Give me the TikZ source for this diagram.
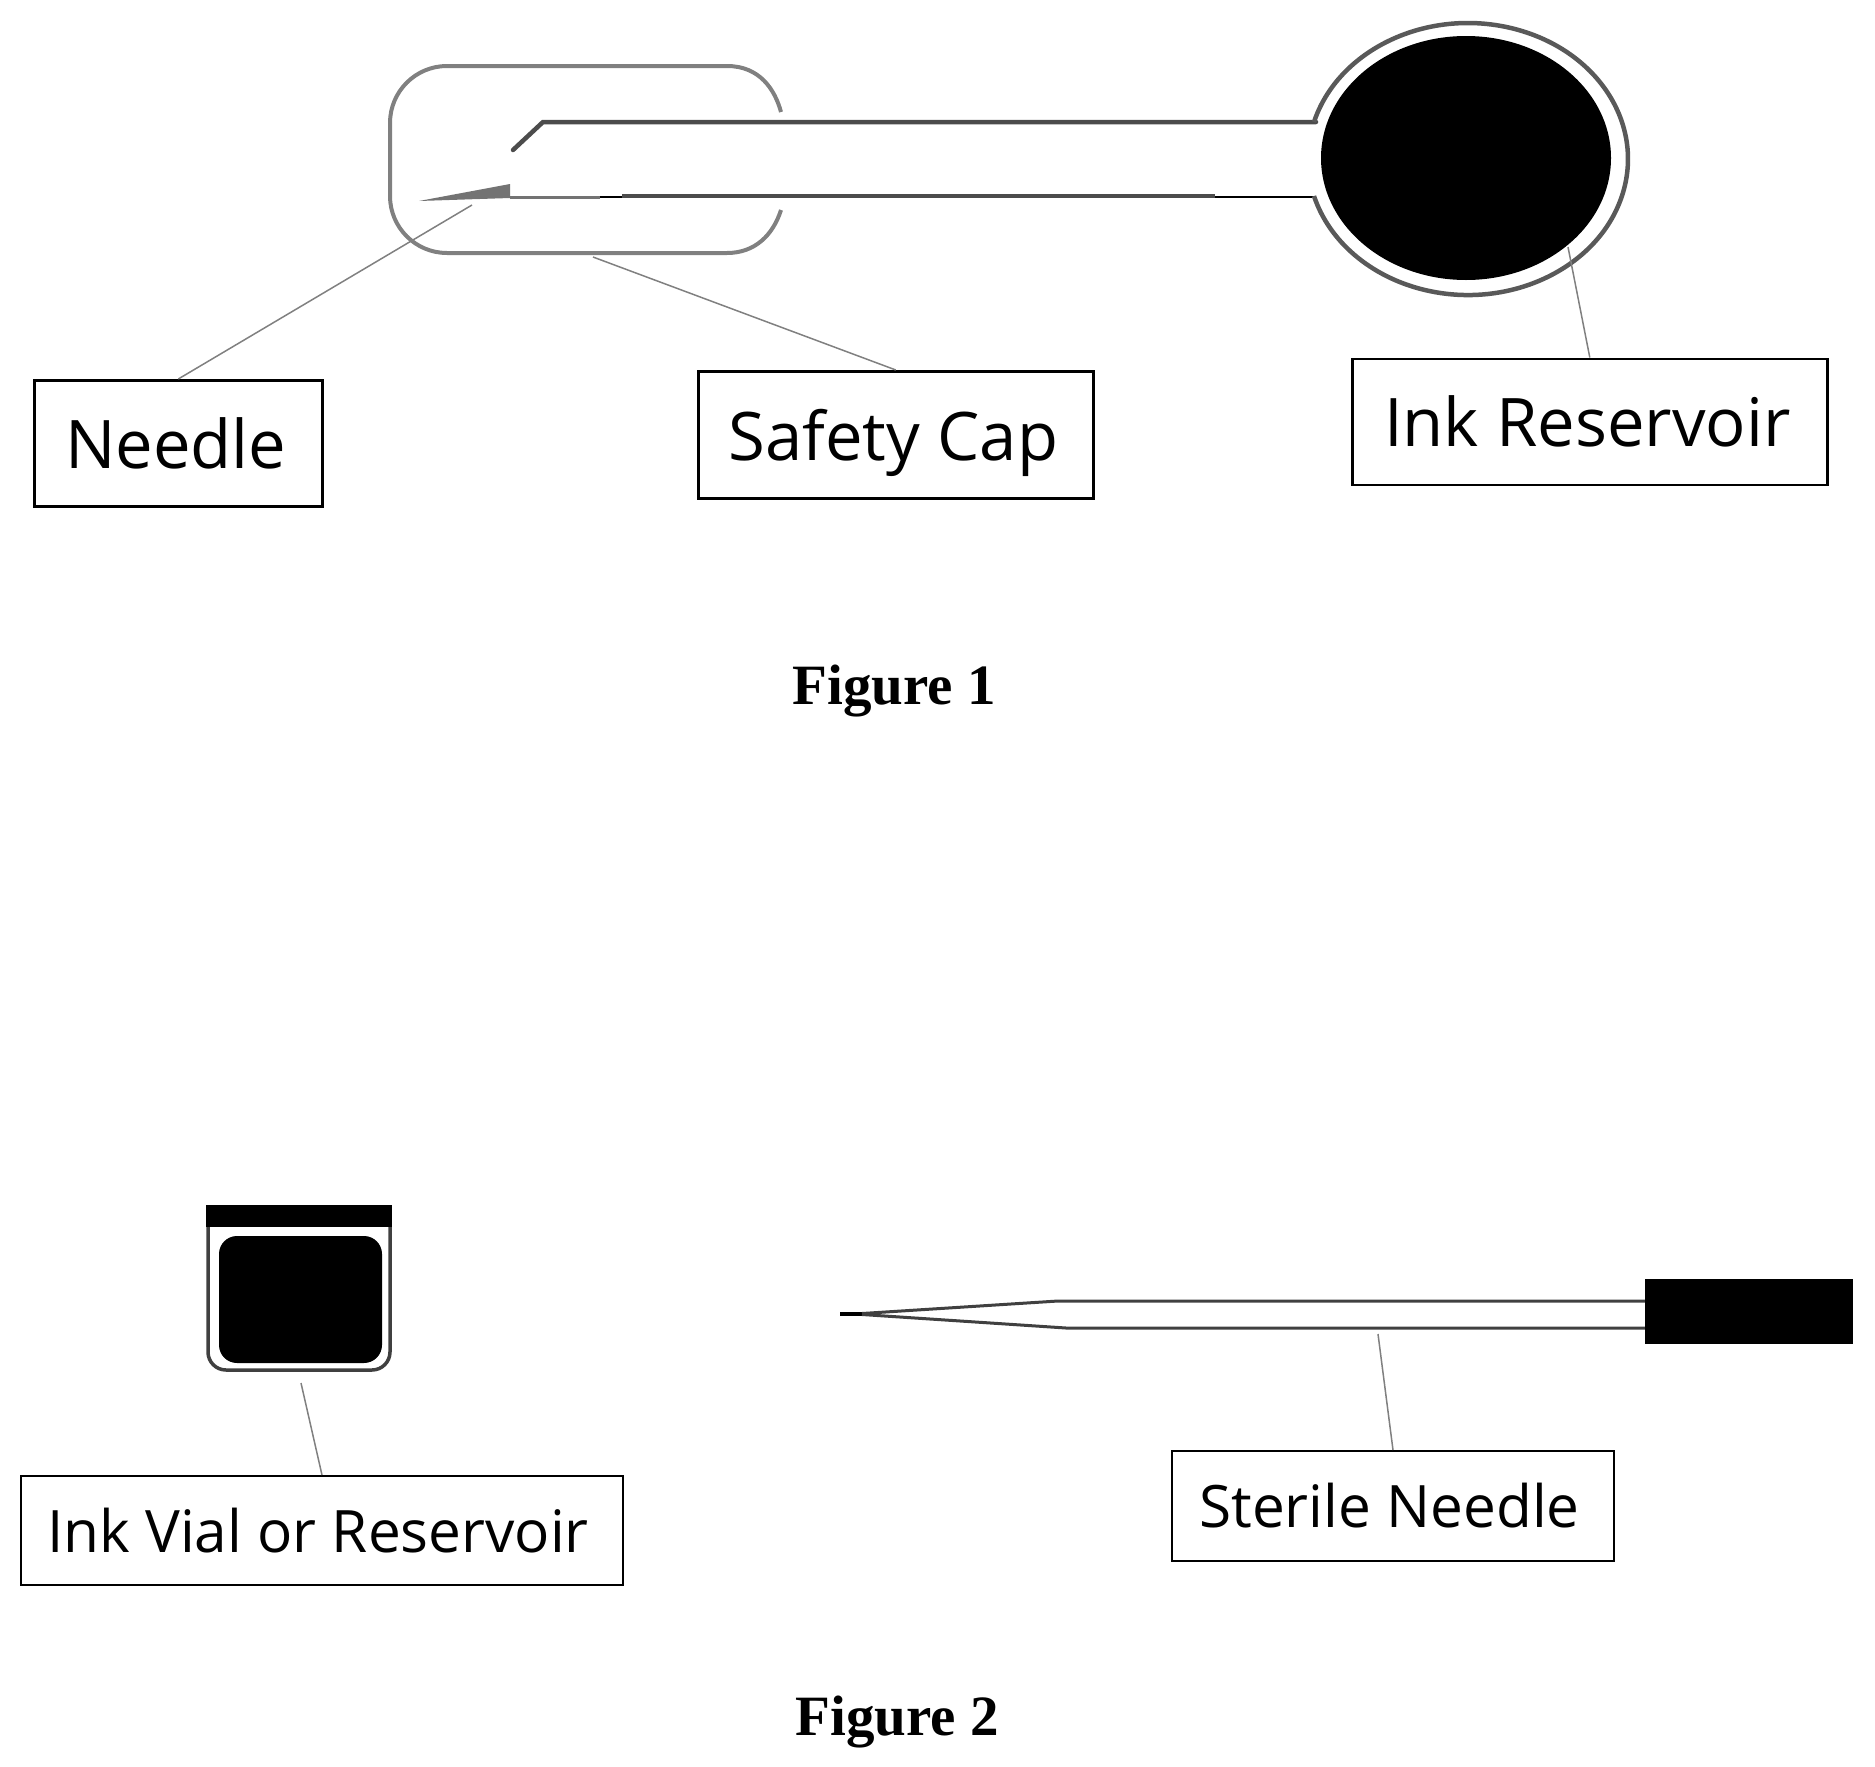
\documentclass[tikz,border=0pt]{standalone}
\usepackage{fontspec}
\usetikzlibrary{shapes.geometric}
\setmainfont{Open Sans}
\newfontfamily\capfont{Liberation Serif}
\tikzset{
  x=1pt,y=-1pt,
  labelbox/.style={draw=black,line width=2.6pt,fill=white,inner sep=0pt,anchor=north west,font=\fontsize{67}{72}\selectfont,text=black},
  smallbox/.style={labelbox,line width=2pt,font=\fontsize{58.5}{64}\selectfont},
  leader/.style={draw=black!50,line width=1.5pt},
  capline/.style={draw=black!50,line width=4pt},
  barrel/.style={draw=black!70,line width=4.5pt},
  thinbar/.style={draw=black,line width=2pt},
  figcap/.style={font=\capfont\bfseries\fontsize{57}{60}\selectfont,inner sep=0pt},
  solidblack/.style={fill=black,draw=none}
}
\begin{document}
\begin{tikzpicture}
\useasboundingbox (0,0) rectangle (1875,1767);
% Figure 1 safety cap
\draw[capline] (781,112) .. controls (775,90) and (760,66) .. (727,66)
  -- (447,66) arc[start angle=90,end angle=180,radius=57pt] -- (390,196)
  arc[start angle=180,end angle=270,radius=57pt] -- (727,253)
  .. controls (755,253) and (773,235) .. (781,210);
% pen barrel
\draw[barrel,line cap=round] (513,150) -- (543,122) -- (1316,122);
\fill[black!55] (419,201) -- (510,184) -- (510,198) -- cycle;
\draw[draw=black!55,line width=3pt] (510,197) -- (600,197);
\draw[thinbar] (600,197) -- (622,197);
\draw[barrel] (622,196) -- (1215,196);
\draw[thinbar] (1215,197) -- (1316,197);
% reservoir
\draw[draw=black!65,line width=4.5pt] (1314,122) arc[start angle=164.2,end angle=-164.2,x radius=160pt,y radius=136pt];
\node[ellipse,solidblack,minimum width=290pt,minimum height=244pt,inner sep=0pt] (inkblob) at (1466,158) {};
% Figure 1 labels
\node[labelbox,minimum width=288pt,minimum height=126pt] (needlebox) at (33,379) {\hspace*{-5pt}Needle};
\node[labelbox,minimum width=395pt,minimum height=127pt] (capbox) at (697,370) {\hspace*{-5pt}\raisebox{0pt}[\height][0pt]{Safety Cap}};
\node[labelbox,minimum width=475pt,minimum height=126pt] (reservoirbox) at (1351,357.5) {\hspace*{-5pt}Ink Reservoir};
\coordinate (needlepoint) at (472,205);
\coordinate (cappoint) at (593,257);
\coordinate (reservoirpoint) at (1568,247);
\draw[leader] (needlebox.north) -- (needlepoint);
\draw[leader] (capbox.north) -- (cappoint);
\draw[leader] (reservoirbox.north) -- (reservoirpoint);
\node[figcap] (figone) at (894,691) {Figure 1};
% Figure 2 vial
\draw[draw=black!75,line width=3.5pt,rounded corners=18pt] (208,1222) -- (208,1370) -- (390,1370) -- (390,1222);
\fill[solidblack] (206,1205) rectangle (392,1227);
\fill[solidblack,rounded corners=18pt] (219,1236) rectangle (382,1363);
% sterile needle
\fill[black] (840,1312) -- (868,1312) -- (868,1316) -- (840,1316) -- cycle;
\draw[draw=black!75,line width=3pt] (862,1313.5) -- (1058,1301) -- (1650,1301);
\draw[draw=black!75,line width=3pt] (862,1314.5) -- (1066,1328) -- (1650,1328);
\fill[solidblack] (1645,1279) rectangle (1853,1344);
% Figure 2 labels
\node[smallbox,minimum width=602pt,minimum height=109pt] (vialbox) at (20,1475) {\hspace*{-8pt}Ink Vial or Reservoir};
\node[smallbox,minimum width=442pt,minimum height=110pt] (sterilebox) at (1171,1450) {\hspace*{-7pt}Sterile Needle};
\coordinate (vialpoint) at (301,1383);
\coordinate (sterilepoint) at (1378,1334);
\draw[leader] (vialbox.north) -- (vialpoint);
\draw[leader] (sterilebox.north) -- (sterilepoint);
\node[figcap] (figtwo) at (897,1722) {Figure 2};
\end{tikzpicture}
\end{document}
